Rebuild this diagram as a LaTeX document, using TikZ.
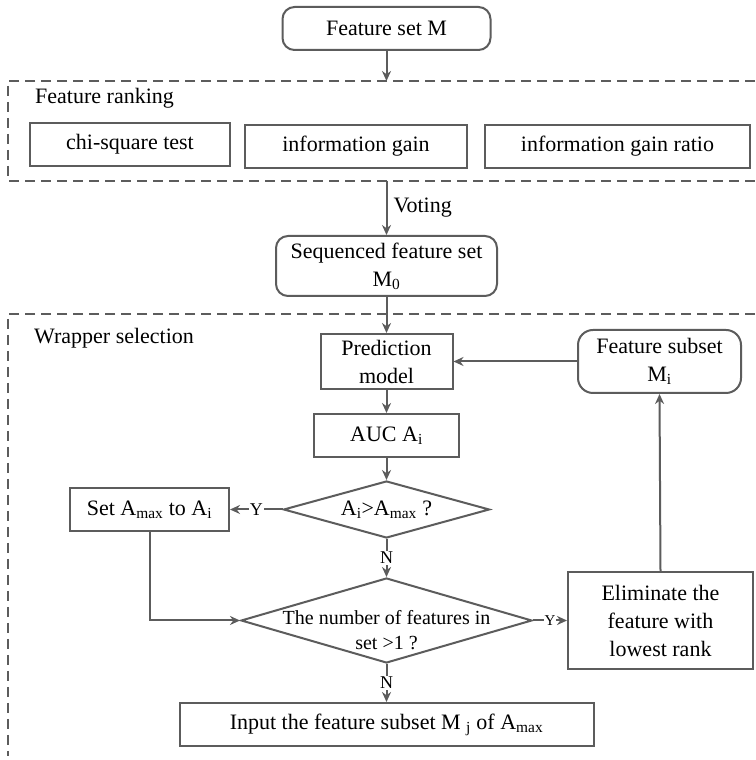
\documentclass[tikz,border=0pt]{standalone}
\usepackage{fontspec}
\setmainfont{Liberation Serif}
\usepackage{tikz}
\usetikzlibrary{shapes.geometric,arrows.meta}

\begin{document}
\begin{tikzpicture}[x=1pt,y=1pt,
  font=\fontsize{22}{28}\selectfont,
  box/.style={draw=drawColor,line width=2pt,rectangle,inner sep=0pt,align=center},
  rbox/.style={box,rounded corners=12pt},
  decision/.style={draw=drawColor,line width=2pt,diamond,inner sep=0pt,shape aspect=3.6},
  group/.style={draw=drawColor,line width=2pt,dash pattern=on 10pt off 6pt},
  flow/.style={draw=drawColor,line width=2pt,-{Stealth[length=10pt,width=9pt]}},
  lab/.style={fill=white,inner sep=1pt,font=\fontsize{18}{18}\selectfont}]
\definecolor[named]{drawColor}{rgb}{0.36,0.36,0.36}
\path[use as bounding box,fill=white] (0,0) rectangle (755,760);

\draw[group] (755.00,679.00) -- (  8.00,679.00) -- (  8.00,579.00) -- (755.00,579.00);
\draw[group] (755.00,446.00) -- (  8.00,446.00) -- (  8.00,  4.00);

\coordinate (rankTop) at (386.50,679.00);
\coordinate (rankBot) at (386.50,579.00);

\node[rbox,minimum width=208,minimum height=43] (setM) at (386.50,731.50) {Feature set M};
\node[anchor=west,inner sep=0pt] (rankLabel) at ( 35.00,662.00) {Feature ranking};
\node[box,minimum width=200,minimum height=43] (chiTest) at (130.00,615.50) {chi-square test};
\node[box,minimum width=222,minimum height=43] (infoGain) at (356.00,613.50) {information gain};
\node[box,minimum width=265,minimum height=43] (gainRatio) at (617.50,613.50) {information gain ratio};
\node[rbox,minimum width=221,minimum height=60] (seqSet) at (386.50,494.00) {Sequenced feature set\\M\textsubscript{0}};

\node[anchor=west,inner sep=0pt] (wrapLabel) at ( 34.00,422.00) {Wrapper selection};
\node[box,minimum width=132,minimum height=55] (predModel) at (386.50,398.50) {Prediction\\model};
\node[rbox,rounded corners=15pt,minimum width=163,minimum height=63] (subSet) at (659.50,398.50) {Feature subset\\M\textsubscript{i}};
\node[box,minimum width=145,minimum height=43] (aucBox) at (386.50,324.50) {AUC A\textsubscript{i}};
\node[decision,minimum width=206,minimum height=57] (cmpMax) at (386.50,250.50) {A\textsubscript{i}>A\textsubscript{max} ?};
\node[box,minimum width=159,minimum height=43] (setMax) at (149.50,250.50) {Set A\textsubscript{max} to A\textsubscript{i}};
\node[decision,minimum width=291,minimum height=85] (cmpNum) at (386.50,139.50) {};
\node[align=center,inner sep=0pt,font=\fontsize{20}{25}\selectfont] (cmpNumText) at (386.50,129.50) {The number of features in\\set >1 ?};
\node[box,minimum width=185,minimum height=97] (elimBox) at (660.50,139.50) {Eliminate the\\feature with\\lowest rank};
\node[box,minimum width=414,minimum height=43] (inputBox) at (386.50, 35.50) {Input the feature subset M \textsubscript{j} of A\textsubscript{max}};

\draw[flow] (setM.south) -- (rankTop);
\draw[flow] (rankBot) -- node[anchor=west,inner sep=6pt] (voteLabel) {Voting} (seqSet.north);
\draw[flow] (seqSet.south) -- (predModel.north);
\draw[flow] (subSet.west) -- (predModel.east);
\draw[flow] (predModel.south) -- (aucBox.north);
\draw[flow] (aucBox.south) -- (cmpMax.north);
\draw[flow] (cmpMax.west) -- node[lab] (yesMax) {Y} (setMax.east);
\draw[flow] (cmpMax.south) -- node[lab] (noMax) {N} (cmpNum.north);
\draw[flow] (setMax.south) |- (cmpNum.west);
\draw[flow] (cmpNum.east) -- node[lab,font=\fontsize{15}{15}\selectfont] (yesNum) {Y} (elimBox.west);
\draw[flow] (elimBox.north) -- (subSet.south);
\draw[flow] (cmpNum.south) -- node[lab] (noNum) {N} (inputBox.north);
\end{tikzpicture}
\end{document}
